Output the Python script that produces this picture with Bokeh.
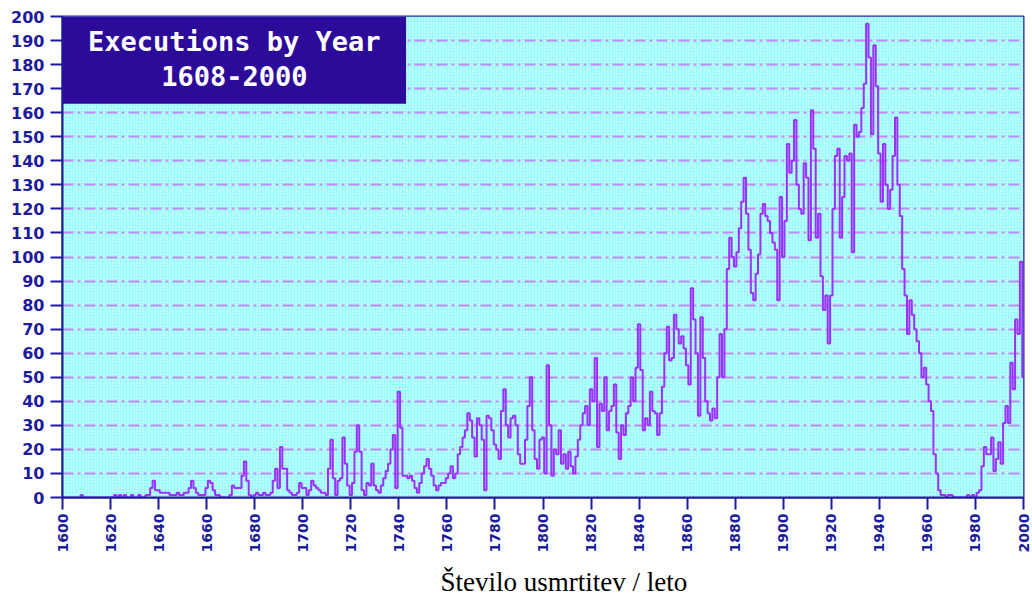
from bokeh.plotting import figure
from bokeh.models import Range1d, FixedTicker, BoxAnnotation, Label, Title
from bokeh.embed import file_html
from bokeh.resources import INLINE
import math

# ---- data: executions per year ----
years = list(range(1600, 2001))

exec_1600s = [
    0, 0, 0, 0, 0, 0, 0, 0, 1, 0,
    0, 0, 0, 0, 0, 0, 0, 0, 0, 0,
    0, 0, 1, 0, 1, 0, 1, 0, 0, 1,
    0, 0, 1, 0, 0, 1, 1, 4, 7, 3,
    3, 2, 2, 2, 2, 1, 1, 1, 2, 1,
    1, 2, 2, 4, 7, 4, 2, 1, 1, 1,
    4, 7, 6, 3, 1, 1, 0, 0, 0, 0,
    1, 5, 4, 4, 4, 9, 15, 7, 1, 0,
    1, 2, 1, 1, 2, 1, 1, 2, 7, 12,
    4, 21, 12, 12, 3, 2, 1, 1, 2, 6,
]
exec_1700s = [
    4, 4, 1, 3, 7, 5, 4, 3, 2, 2,
    1, 12, 24, 8, 1, 7, 8, 25, 14, 5,
    1, 6, 19, 30, 19, 3, 1, 6, 5, 14,
    5, 3, 2, 5, 8, 11, 14, 20, 26, 4,
    44, 29, 9, 9, 8, 9, 7, 4, 2, 6,
    10, 13, 16, 12, 9, 5, 3, 5, 6, 6,
    8, 10, 13, 8, 10, 18, 21, 25, 28, 35,
    32, 25, 17, 33, 30, 24, 3, 34, 33, 28,
    22, 20, 16, 36, 45, 30, 25, 33, 34, 30,
    18, 14, 14, 24, 38, 50, 28, 16, 12, 24,
]
exec_1800s = [
    25, 10, 55, 30, 9, 20, 18, 28, 14, 18,
    12, 19, 13, 10, 17, 24, 30, 35, 38, 30,
    45, 40, 58, 21, 39, 36, 50, 28, 36, 38,
    47, 27, 16, 30, 26, 35, 38, 50, 40, 54,
    72, 53, 28, 33, 30, 44, 36, 35, 26, 35,
    46, 60, 71, 57, 58, 76, 70, 64, 67, 62,
    55, 47, 87, 74, 60, 34, 75, 58, 40, 35,
    32, 37, 33, 50, 68, 50, 70, 95, 108, 100,
    96, 102, 112, 123, 133, 118, 103, 85, 82, 93,
    101, 118, 122, 117, 115, 110, 106, 103, 82, 125,
]
exec_1900s = [
    100, 115, 147, 135, 140, 157, 130, 120, 118, 139,
    133, 107, 161, 145, 108, 118, 92, 78, 84, 64,
    84, 120, 142, 145, 108, 125, 142, 140, 143, 102,
    155, 150, 152, 162, 172, 197, 183, 151, 188, 171,
    143, 123, 147, 130, 120, 128, 142, 158, 130, 117,
    95, 84, 68, 82, 76, 70, 65, 60, 50, 54,
    47, 40, 36, 18, 10, 3, 1, 1, 0, 1,
    1, 0, 0, 0, 0, 0, 0, 1, 0, 1,
    0, 2, 3, 13, 21, 18, 18, 25, 11, 16,
    23, 14, 31, 38, 31, 56, 45, 74, 68, 98,
]
exec_2000 = [50]

executions = exec_1600s + exec_1700s + exec_1800s + exec_1900s + exec_2000

x_ticks = list(range(1600, 2001, 20))
y_ticks = list(range(0, 201, 10))
title_lines = ["Executions by Year", "1608-2000"]
x_label = "Število usmrtitev  / leto"

AXIS = "#1c1c9c"

p = figure(width=1032, height=607, output_backend="svg", toolbar_location=None,
           x_range=Range1d(1600, 2000), y_range=Range1d(0, 200),
           min_border_left=62, min_border_right=9, min_border_top=16, min_border_bottom=110)

p.background_fill_color = "#99fcfc"
p.border_fill_color = "white"
p.outline_line_color = AXIS
p.outline_line_width = 2

# dotted background texture
bg = BoxAnnotation(fill_color="#99fcfc", fill_alpha=1, line_color=None,
                   hatch_pattern="dot", hatch_color="white", hatch_scale=3,
                   hatch_weight=1.2, level="image")
p.add_layout(bg)

p.xgrid.visible = False
p.ygrid.ticker = FixedTicker(ticks=y_ticks)
p.ygrid.grid_line_color = "#c08af4"
p.ygrid.grid_line_dash = "11 4 3 4"
p.ygrid.grid_line_width = 2

for ax in (p.xaxis[0], p.yaxis[0]):
    ax.axis_line_color = AXIS
    ax.axis_line_width = 2
    ax.major_tick_line_color = AXIS
    ax.major_tick_line_width = 2
    ax.major_tick_in = 0
    ax.major_tick_out = 12
    ax.minor_tick_line_color = None
    ax.major_label_text_color = AXIS
    ax.major_label_text_font = "DejaVu Sans"
    ax.major_label_text_font_style = "bold"

p.yaxis.ticker = FixedTicker(ticks=y_ticks)
p.yaxis.major_label_text_font_size = "16px"
p.yaxis.major_label_standoff = 6

p.xaxis.ticker = FixedTicker(ticks=x_ticks)
p.xaxis.major_label_text_font_size = "14px"
p.xaxis.major_label_orientation = math.pi / 2
p.xaxis.major_label_standoff = 4

p.step(years, executions, mode="center", line_color="#9b30ff", line_width=2)

# caption below the axis
cap = Title(text=x_label, align="left", offset=378, standoff=19,
            text_color="black", text_font="Liberation Serif",
            text_font_size="27px", text_font_style="normal")
p.add_layout(cap, "below")

# title box
box = BoxAnnotation(left=1600, right=1743, bottom=163.7, top=200,
                    fill_color="#2c0a9a", fill_alpha=1, line_color=None)
p.add_layout(box)
for txt, yy in zip(title_lines, [189.4, 175.3]):
    p.add_layout(Label(x=1671.5, y=yy, text=txt, text_color="white",
                       text_font="DejaVu Sans Mono", text_font_style="bold",
                       text_font_size="27px", text_align="center",
                       text_baseline="middle"))

open("out.html", "w").write(file_html(p, INLINE))
